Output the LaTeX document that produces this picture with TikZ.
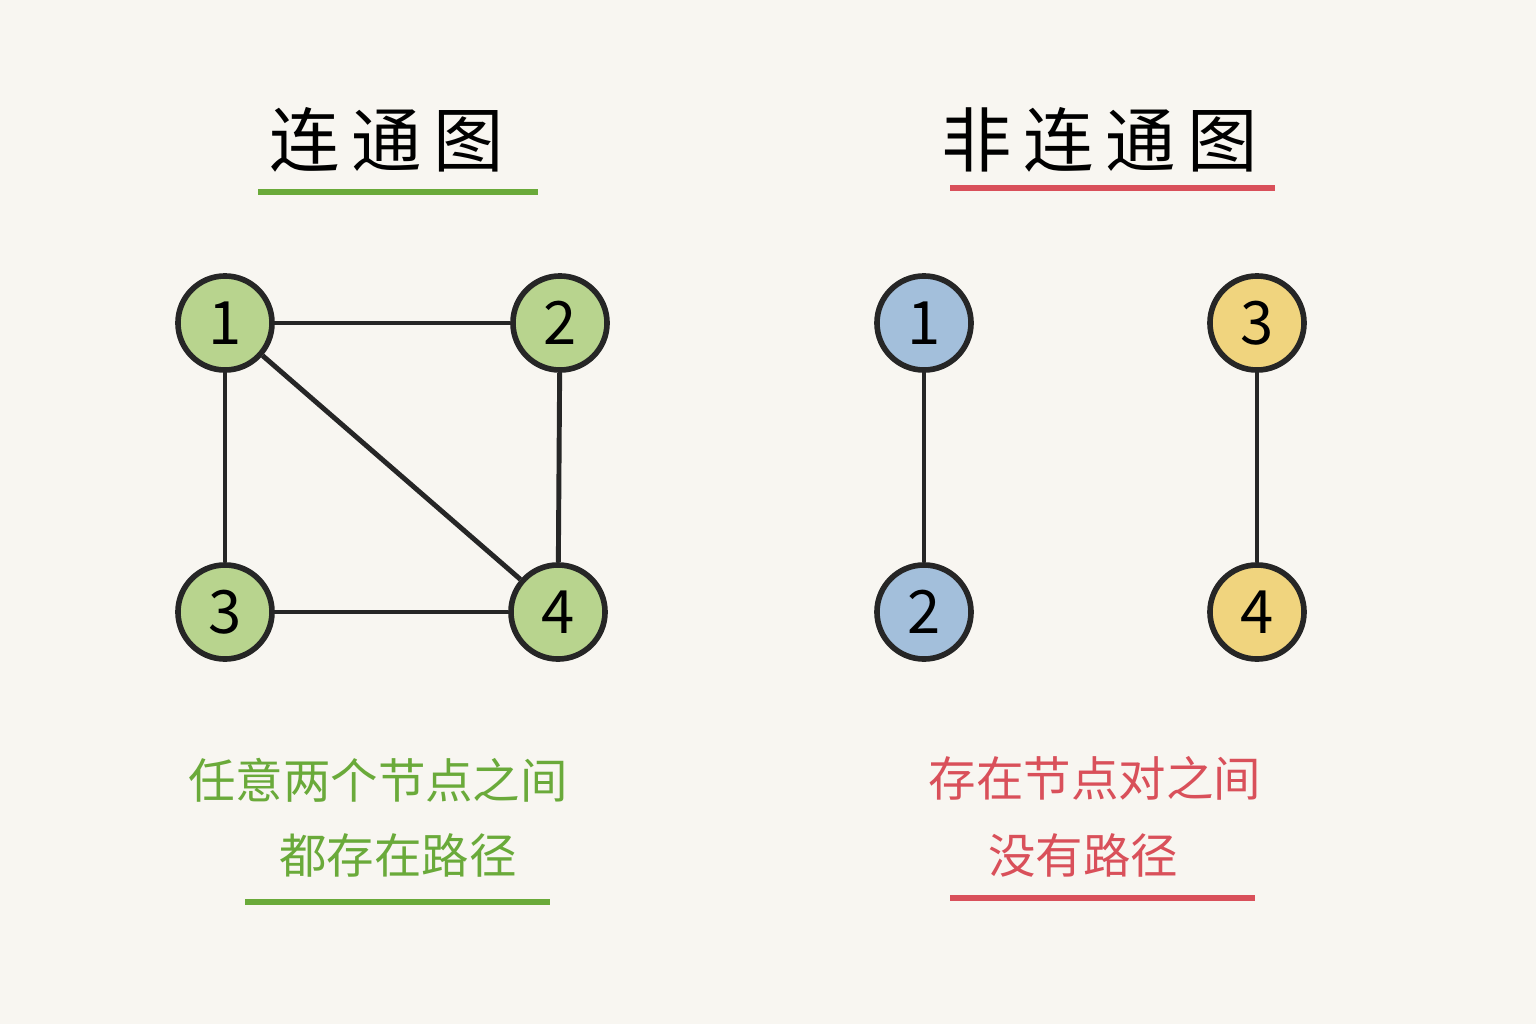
\documentclass[tikz,border=0pt]{standalone}
\usepackage{fontspec}
\setmainfont{Noto Sans CJK SC}
\definecolor{paper}{HTML}{F8F6F1}
\definecolor{gfill}{HTML}{B8D48E}
\definecolor{bfill}{HTML}{A3BFDB}
\definecolor{yfill}{HTML}{F0D47E}
\definecolor{gtext}{HTML}{6AAA3A}
\definecolor{rtext}{HTML}{D9505A}
\tikzstyle{vert} = [circle,minimum size=0.94cm,inner sep=0pt,draw=black!85,line width=1.6pt,font=\fontsize{17}{17}\selectfont]
\tikzstyle{edge} = [draw=black!85,line width=1.4pt]
\tikzstyle{title} = [font=\fontsize{20}{20}\selectfont]
\tikzstyle{note} = [font=\fontsize{13.5}{13.5}\selectfont]
\begin{document}
\begin{tikzpicture}[x=0.01cm,y=-0.01cm]
    \fill[paper] (0,0) rectangle (1536,1024);

    % Titles
    \node[title] (T1) at (387,140) {连\,通\,图};
    \node[title] (T2) at (1100,140) {非\,连\,通\,图};
    \draw[gtext,line width=1.6pt] (258,192) -- (538,192);
    \draw[rtext,line width=1.6pt] (950,188) -- (1275,188);

    % Connected graph
    \node[vert,fill=gfill] (A1) at (225,323) {1};
    \node[vert,fill=gfill] (A2) at (560,323) {2};
    \node[vert,fill=gfill] (A3) at (225,612) {3};
    \node[vert,fill=gfill] (A4) at (558,612) {4};
    \draw[edge] (A1) -- (A2);
    \draw[edge] (A1) -- (A3);
    \draw[edge] (A1) -- (A4);
    \draw[edge] (A2) -- (A4);
    \draw[edge] (A3) -- (A4);

    % Disconnected graph
    \node[vert,fill=bfill] (B1) at (924,323) {1};
    \node[vert,fill=bfill] (B2) at (924,612) {2};
    \node[vert,fill=yfill] (B3) at (1257,323) {3};
    \node[vert,fill=yfill] (B4) at (1257,612) {4};
    \draw[edge] (B1) -- (B2);
    \draw[edge] (B3) -- (B4);

    % Notes
    \node[note,text=gtext] (N1) at (378,780) {任意两个节点之间};
    \node[note,text=gtext] (N2) at (398,855) {都存在路径};
    \draw[gtext,line width=1.6pt] (245,902) -- (550,902);
    \node[note,text=rtext] (N3) at (1095,778) {存在节点对之间};
    \node[note,text=rtext] (N4) at (1083,855) {没有路径};
    \draw[rtext,line width=1.6pt] (950,898) -- (1255,898);
\end{tikzpicture}
\end{document}
